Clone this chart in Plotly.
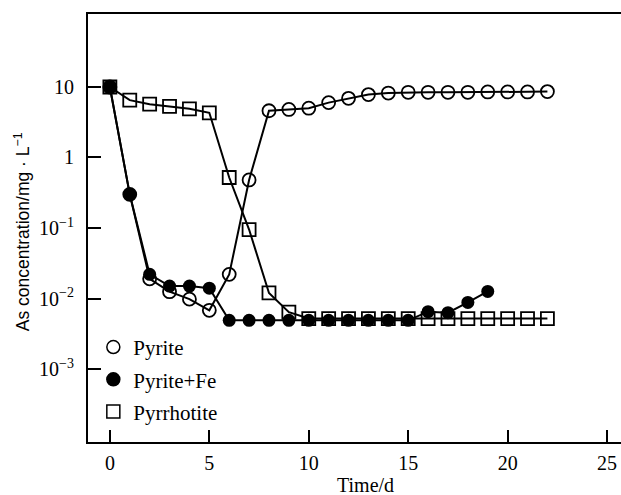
import plotly.graph_objects as go

days_pyrite = list(range(0, 23))
pyrite = [10, 0.30, 0.019, 0.0125, 0.0098, 0.0068, 0.022, 0.48, 4.6, 4.8,
          5.0, 6.0, 6.9, 7.8, 8.2, 8.4, 8.4, 8.4, 8.4, 8.5, 8.5, 8.5, 8.6]

days_fe = list(range(0, 20))
pyrite_fe = [10, 0.30, 0.022, 0.015, 0.015, 0.014, 0.0049, 0.0049, 0.0049, 0.0049,
             0.0049, 0.0049, 0.0049, 0.0049, 0.0049, 0.0049, 0.0065, 0.0063, 0.0088, 0.0126]

days_pyrrhotite = list(range(0, 23))
pyrrhotite = [10, 6.5, 5.7, 5.3, 4.9, 4.3, 0.52, 0.095, 0.012, 0.0064,
              0.0052, 0.0052, 0.0052, 0.0052, 0.0052, 0.0052, 0.0052, 0.0052,
              0.0052, 0.0052, 0.0052, 0.0052, 0.0052]

y_tickvals = [1e-3, 1e-2, 1e-1, 1, 10]
y_ticktext = ["10<sup>−3</sup>", "10<sup>−2</sup>", "10<sup>−1</sup>", "1", "10"]
x_tickvals = [0, 5, 10, 15, 20, 25]

SERIF = "Liberation Serif"
SANS = "Liberation Sans"

fig = go.Figure()

# data traces (no legend)
fig.add_trace(go.Scatter(x=days_pyrrhotite, y=pyrrhotite, mode="lines+markers",
                         line=dict(color="black", width=2),
                         marker=dict(symbol="square-open", size=13, color="black",
                                     line=dict(width=1.8, color="black")),
                         showlegend=False))
fig.add_trace(go.Scatter(x=days_pyrite, y=pyrite, mode="lines+markers",
                         line=dict(color="black", width=2),
                         marker=dict(symbol="circle-open", size=13, color="black",
                                     line=dict(width=1.8, color="black")),
                         showlegend=False))
fig.add_trace(go.Scatter(x=days_fe, y=pyrite_fe, mode="lines+markers",
                         line=dict(color="black", width=2),
                         marker=dict(symbol="circle", size=13, color="black"),
                         showlegend=False))

# legend entries (markers only)
legend_items = [("Pyrite", "circle-open"), ("Pyrite+Fe", "circle"), ("Pyrrhotite", "square-open")]
for i, (name, sym) in enumerate(legend_items):
    fig.add_trace(go.Scatter(x=[None], y=[None], mode="markers", name=name,
                             legendgroup=name, legendrank=i + 1,
                             marker=dict(symbol=sym, size=13, color="black",
                                         line=dict(width=1.5, color="black"))))

fig.update_layout(
    width=621, height=495,
    margin=dict(l=88, r=0, t=14, b=53),
    plot_bgcolor="white", paper_bgcolor="white",
    font=dict(family=SERIF, size=20, color="black"),
    showlegend=True,
    legend=dict(x=0.01, y=0.269, xanchor="left", yanchor="top",
                bgcolor="rgba(0,0,0,0)", traceorder="grouped",
                tracegroupgap=2, font=dict(family=SERIF, size=21)),
    xaxis=dict(range=[-1.1, 25.7], tickvals=x_tickvals, ticks="inside", ticklen=12,
               tickwidth=1.5, tickcolor="black", showline=True, linecolor="black",
               linewidth=2, mirror=True, showgrid=False, zeroline=False,
               ticklabelstandoff=2, tickfont=dict(family=SERIF, size=20)),
    yaxis=dict(type="log", range=[-4.035, 2.035], tickvals=y_tickvals, ticktext=y_ticktext,
               ticks="inside", ticklen=13, tickwidth=1.5, tickcolor="black",
               showline=True, linecolor="black", linewidth=2, showgrid=False,
               zeroline=False, ticklabelstandoff=8, tickfont=dict(family=SERIF, size=20)),
    annotations=[
        dict(text="Time/d", xref="paper", yref="paper", x=0.52, y=0, yshift=-43,
             showarrow=False, xanchor="center", yanchor="middle",
             font=dict(family=SERIF, size=20)),
        dict(text="As concentration/mg · L<sup>−1</sup>", xref="paper", yref="paper",
             x=0, y=0.49, xshift=-66, textangle=-90, showarrow=False,
             xanchor="center", yanchor="middle", font=dict(family=SANS, size=17.5)),
    ],
)

fig.write_html(
    "out.html",
    config={"displayModeBar": False},
    post_script="document.body.style.margin='0';document.body.style.overflow='hidden';",
)
